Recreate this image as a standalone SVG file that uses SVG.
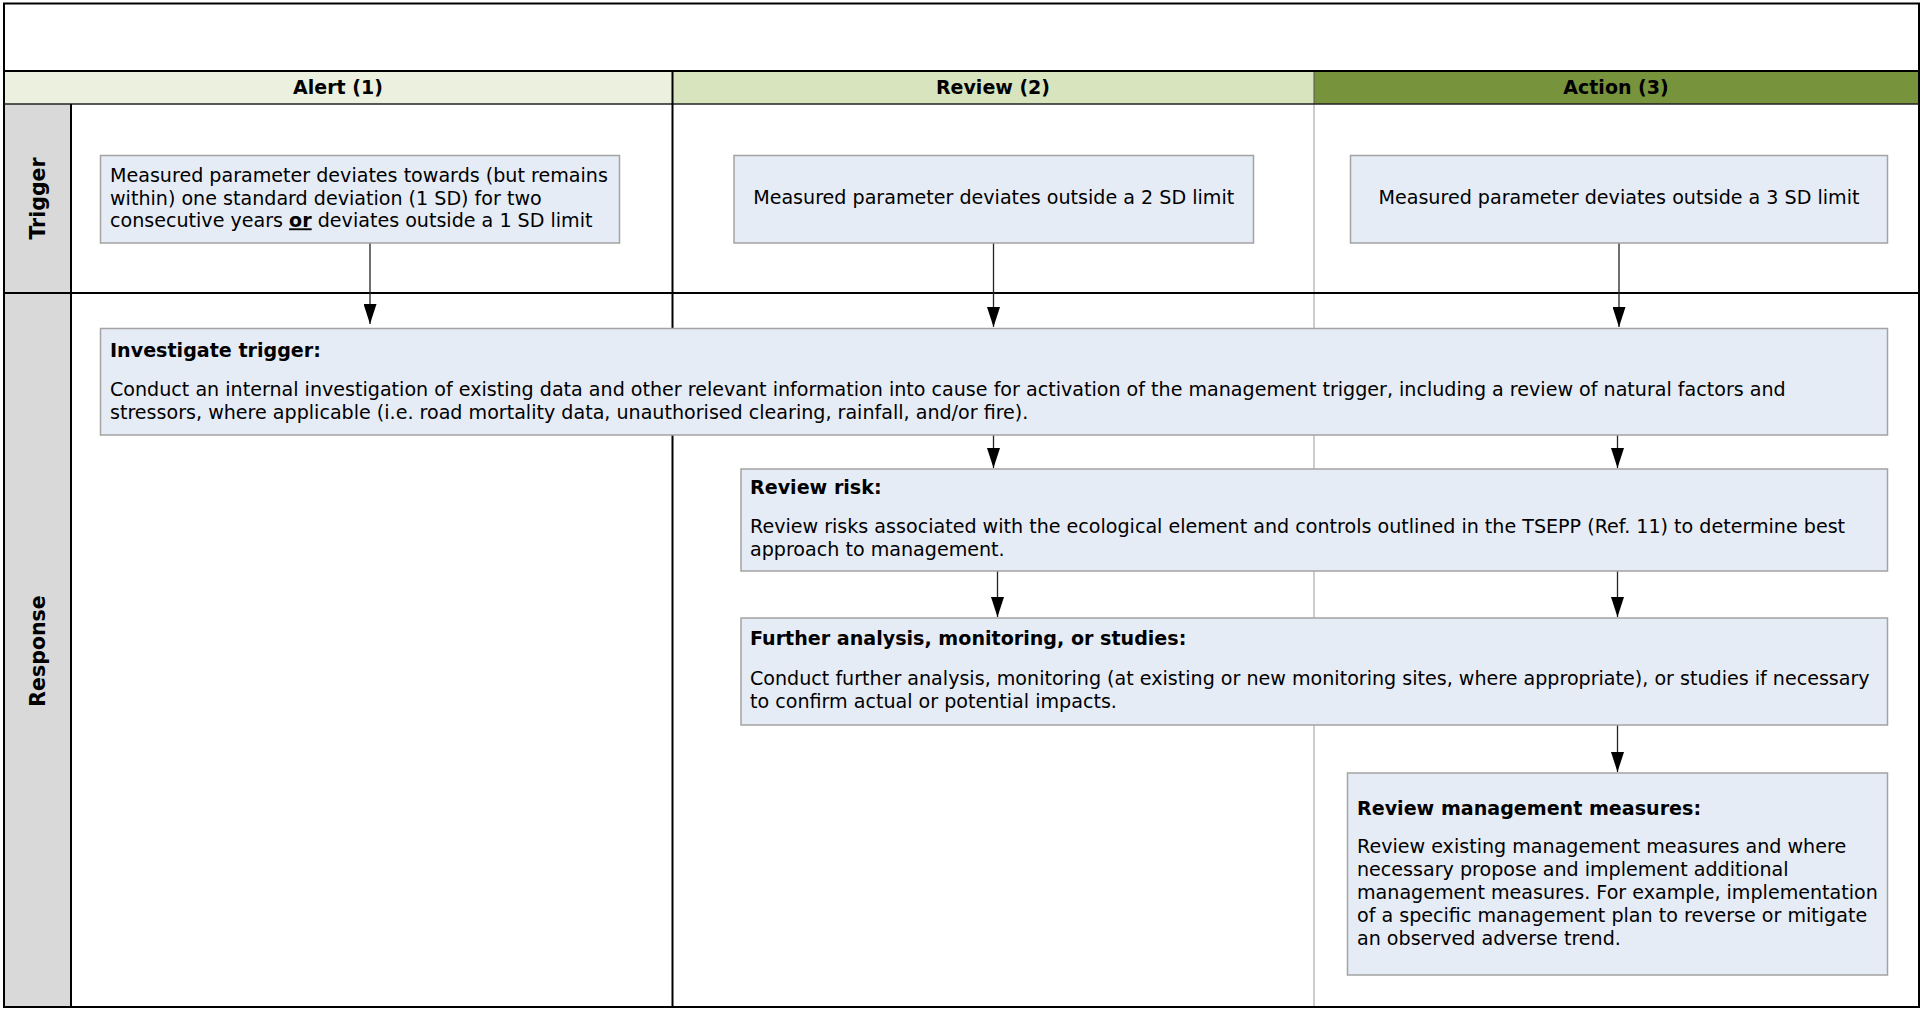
<svg xmlns="http://www.w3.org/2000/svg" width="1921" height="1009" viewBox="0 0 1921 1009">
<defs>
<style>
.t{font-family:"DejaVu Sans",Verdana,sans-serif;font-size:19.1px;fill:#000}
.b{font-weight:bold}
.hd{font-family:"DejaVu Sans",Verdana,sans-serif;font-size:19px;font-weight:bold;fill:#000;text-anchor:middle}
.lbl{font-family:"DejaVu Sans",Verdana,sans-serif;font-size:20.5px;font-weight:bold;fill:#000;text-anchor:middle}
.box{fill:#E6ECF6;stroke:#A3A3A3;stroke-width:1.5}
.blk{stroke:#000;stroke-width:2;fill:none}
.gry{stroke:#BDBDBD;stroke-width:1.5;fill:none}
.con{stroke:#222;stroke-width:1.3;fill:none;marker-end:url(#ah)}
</style>
<marker id="ah" markerUnits="userSpaceOnUse" markerWidth="20" markerHeight="13" refX="20" refY="6.5" orient="auto" viewBox="0 0 20 13">
<path d="M0,0 L20,6.5 L0,13 Z" fill="#000"/>
</marker>
</defs>
<rect x="0" y="0" width="1921" height="1009" fill="#fff"/>
<g id="frame">
<rect x="4" y="71" width="668" height="33" fill="#EBF1DE"/>
<rect x="672" y="71" width="642" height="33" fill="#D7E4BD"/>
<rect x="1314" y="71" width="605" height="33" fill="#77933C"/>
<rect x="4" y="104" width="67" height="903" fill="#D9D9D9"/>
<line class="gry" x1="1314" y1="104" x2="1314" y2="1007"/>
<line x1="1314" y1="71" x2="1314" y2="104" stroke="#555" stroke-width="1"/>
<rect class="blk" x="4" y="3.5" width="1915" height="1003.5"/>
<line class="blk" x1="4" y1="71" x2="1919" y2="71"/>
<line x1="4" y1="104" x2="1919" y2="104" stroke="#222" stroke-width="1.6"/>
<line class="blk" x1="4" y1="293" x2="1919" y2="293"/>
<line class="blk" x1="71" y1="104" x2="71" y2="1007"/>
<line class="blk" x1="672.5" y1="71" x2="672.5" y2="1007"/>
</g>
<g id="headers">
<text class="hd" x="338" y="94">Alert (1)</text>
<text class="hd" x="993" y="94">Review (2)</text>
<text class="hd" x="1616" y="94">Action (3)</text>
<text class="lbl" transform="translate(45 198.5) rotate(-90)">Trigger</text>
<text class="lbl" transform="translate(45 651) rotate(-90)">Response</text>
</g>
<g id="connectors">
<line class="con" x1="370" y1="243" x2="370" y2="324"/>
<line class="con" x1="993.5" y1="243" x2="993.5" y2="327"/>
<line class="con" x1="1619" y1="243" x2="1619" y2="327"/>
<line class="con" x1="993.5" y1="435" x2="993.5" y2="468"/>
<line class="con" x1="1617.5" y1="428" x2="1617.5" y2="468"/>
<line class="con" x1="997.5" y1="571" x2="997.5" y2="617"/>
<line class="con" x1="1617.5" y1="571" x2="1617.5" y2="617"/>
<line class="con" x1="1617.5" y1="725" x2="1617.5" y2="772"/>
</g>
<g id="trigger-alert">
<rect class="box" x="100.5" y="155.5" width="519" height="87.5"/>
<text class="t" x="110" y="182">Measured parameter deviates towards (but remains</text>
<text class="t" x="110" y="204.5">within) one standard deviation (1 SD) for two</text>
<text class="t" x="110" y="227.3">consecutive years <tspan class="b" text-decoration="underline">or</tspan> deviates outside a 1 SD limit</text>
</g>
<g id="trigger-review">
<rect class="box" x="734" y="155.5" width="519.5" height="87.5"/>
<text class="t" x="993.7" y="204" text-anchor="middle">Measured parameter deviates outside a 2 SD limit</text>
</g>
<g id="trigger-action">
<rect class="box" x="1350.5" y="155.5" width="537" height="87.5"/>
<text class="t" x="1619" y="204" text-anchor="middle">Measured parameter deviates outside a 3 SD limit</text>
</g>
<g id="investigate">
<rect class="box" x="100.5" y="328.5" width="1787" height="106.5"/>
<text class="t b" x="110" y="357.3">Investigate trigger:</text>
<text class="t" x="110" y="396">Conduct an internal investigation of existing data and other relevant information into cause for activation of the management trigger, including a review of natural factors and</text>
<text class="t" x="110" y="418.5">stressors, where applicable (i.e. road mortality data, unauthorised clearing, rainfall, and/or fire).</text>
</g>
<g id="review-risk">
<rect class="box" x="741" y="469" width="1146.5" height="102"/>
<text class="t b" x="750" y="494">Review risk:</text>
<text class="t" x="750" y="533">Review risks associated with the ecological element and controls outlined in the TSEPP (Ref. 11) to determine best</text>
<text class="t" x="750" y="556">approach to management.</text>
</g>
<g id="further-analysis">
<rect class="box" x="741" y="618" width="1146.5" height="107"/>
<text class="t b" x="750" y="645">Further analysis, monitoring, or studies:</text>
<text class="t" x="750" y="685">Conduct further analysis, monitoring (at existing or new monitoring sites, where appropriate), or studies if necessary</text>
<text class="t" x="750" y="707.5">to confirm actual or potential impacts.</text>
</g>
<g id="review-management">
<rect class="box" x="1347.5" y="773" width="540" height="202"/>
<text class="t b" x="1357" y="814.5">Review management measures:</text>
<text class="t" x="1357" y="853">Review existing management measures and where</text>
<text class="t" x="1357" y="876">necessary propose and implement additional</text>
<text class="t" x="1357" y="899">management measures. For example, implementation</text>
<text class="t" x="1357" y="922">of a specific management plan to reverse or mitigate</text>
<text class="t" x="1357" y="945">an observed adverse trend.</text>
</g>
</svg>
